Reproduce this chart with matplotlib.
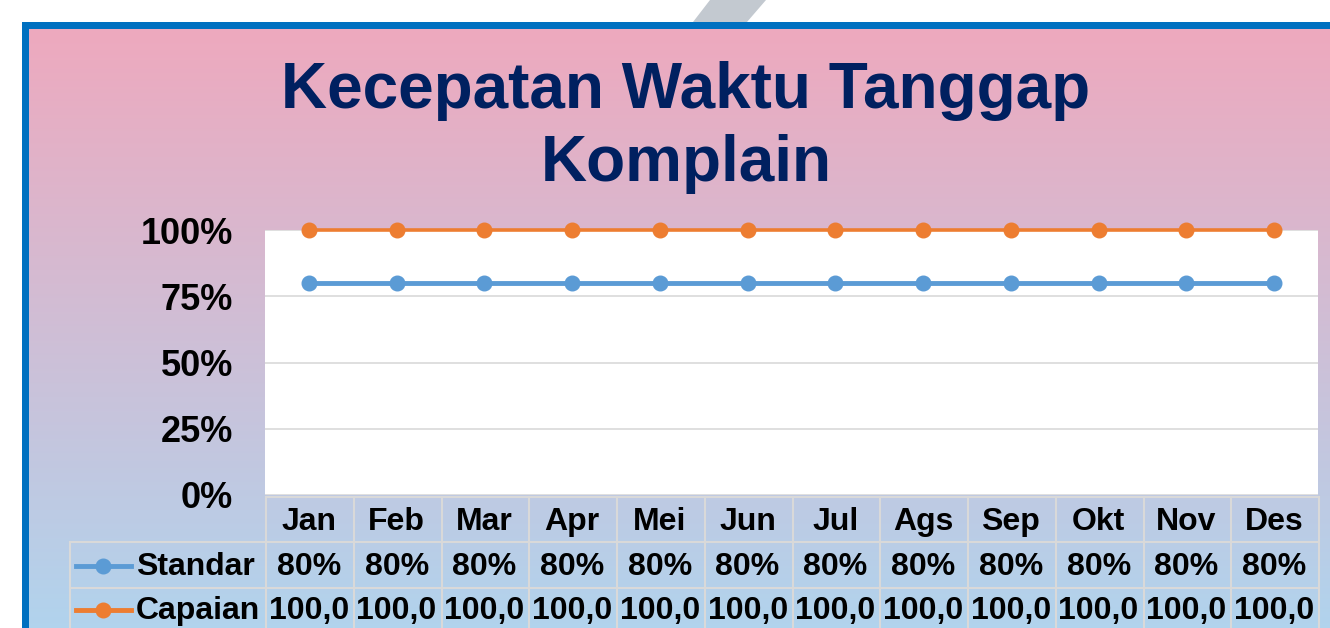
import matplotlib
matplotlib.use("Agg")
import matplotlib.pyplot as plt
import matplotlib.transforms as mtransforms
from matplotlib.patches import Rectangle, Polygon
import numpy as np

plt.rcParams['font.family'] = ['Liberation Sans', 'DejaVu Sans']
plt.rcParams['font.weight'] = 'bold'

# data
months   = ["Jan", "Feb", "Mar", "Apr", "Mei", "Jun",
            "Jul", "Ags", "Sep", "Okt", "Nov", "Des"]
standar  = [0.80, 0.80, 0.80, 0.80, 0.80, 0.80,
            0.80, 0.80, 0.80, 0.80, 0.80, 0.80]
capaian  = [1.00, 1.00, 1.00, 1.00, 1.00, 1.00,
            1.00, 1.00, 1.00, 1.00, 1.00, 1.00]
yticks   = [0, 0.25, 0.50, 0.75, 1.00]
title    = ["Kecepatan Waktu Tanggap", "Komplain"]

c_std  = "#5B9BD5"
c_cap  = "#ED7D31"
c_grid = "#D9D9D9"
W, H = 1330, 628

fig = plt.figure(figsize=(W/100, H/100), dpi=100)
fig.patch.set_facecolor("white")

# background layer in pixel coordinates (y down)
bg = fig.add_axes([0, 0, 1, 1])
bg.set_xlim(0, W)
bg.set_ylim(H, 0)
bg.axis("off")

bg.add_patch(Polygon([[710, 0], [766, 0], [747, 22], [693, 22]],
                     closed=True, color="#C3C9D0", lw=0))
bg.add_patch(Rectangle((22, 22), W, H, color="#0070C0", lw=0))
top = np.array([238, 169, 190]) / 255
bot = np.array([176, 212, 238]) / 255
t = np.linspace(0, 1, 256)[:, None, None]
grad = top * (1 - t) + bot * t
bg.imshow(grad, extent=(29, W + 10, H + 10, 29), aspect="auto",
          interpolation="bilinear", zorder=1)
bg.set_xlim(0, W)
bg.set_ylim(H, 0)

fig.text(686, H - 108, title[0], transform=None, ha="center", va="baseline",
         fontsize=46, fontweight="bold", color="#002060")
fig.text(686, H - 181, title[1], transform=None, ha="center", va="baseline",
         fontsize=46, fontweight="bold", color="#002060")

# plot area
x0, x1, y0, y1 = 265, 1318, 230, 495
ax = fig.add_axes([x0/W, (H - y1)/H, (x1 - x0)/W, (y1 - y0)/H])
ax.set_facecolor("white")
x = np.arange(len(months))
ax.plot(x, standar, color=c_std, lw=3.5, marker="o", ms=10.5, clip_on=False, zorder=3)
ax.plot(x, capaian, color=c_cap, lw=2.6, marker="o", ms=10.5, clip_on=False, zorder=3)
ax.set_xlim(-0.5, len(months) - 0.5)
ax.set_ylim(0, 1)
ax.set_yticks(yticks)
ax.set_yticklabels(["{:.0%}".format(v) for v in yticks])
ax.set_xticks([])
ax.tick_params(axis="y", length=0, pad=23, labelsize=26)
for lab in ax.get_yticklabels():
    lab.set_fontweight("bold")
ax.grid(axis="y", color=c_grid, lw=1.2)
ax.set_axisbelow(True)
for s in ax.spines.values():
    s.set_visible(False)

# data table below the plot
tr = mtransforms.blended_transform_factory(ax.transData, bg.transData)
kw = dict(transform=tr, ha="center", va="center", fontsize=23,
          fontweight="bold", color="black", clip_on=False)
for i, m in enumerate(months):
    ax.text(i, 522, m, **kw)
    ax.text(i, 567, "{:.0%}".format(standar[i]), **kw)
    ax.text(i, 611, "{:.1f}".format(capaian[i] * 100).replace(".", ","), **kw)
for i in range(len(months) + 1):
    bg.plot([i * (x1 - x0) / len(months) + x0 + 1] * 2, [497, H], color=c_grid, lw=1.5, zorder=5)
bg.plot([267, x1], [497, 497], color=c_grid, lw=1.5, zorder=5)
bg.plot([70, x1], [542, 542], color=c_grid, lw=1.5, zorder=5)
bg.plot([70, x1], [588, 588], color=c_grid, lw=1.5, zorder=5)
bg.plot([70, 70], [542, H], color=c_grid, lw=1.5, zorder=5)

# row headers with legend keys
for yy, name, col in [(566, "Standar", c_std), (610, "Capaian", c_cap)]:
    bg.plot([76, 131], [yy, yy], color=col, lw=3.5, zorder=6)
    bg.plot([103], [yy], "o", color=col, ms=10.5, zorder=6)
    bg.text(136, yy + 1, name, ha="left", va="center", fontsize=23,
            fontweight="bold", color="black", zorder=6)

fig.savefig("out.png", dpi=100)
